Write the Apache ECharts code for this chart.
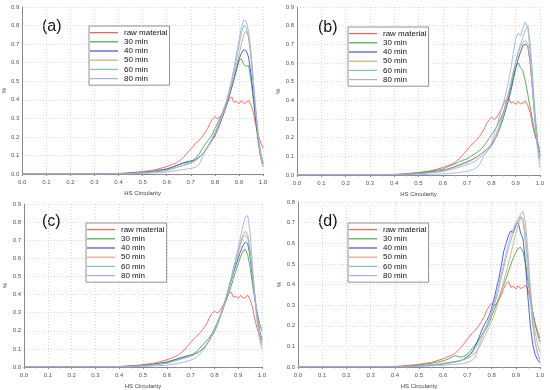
<!DOCTYPE html>
<html><head><meta charset="utf-8">
<script src="https://cdn.jsdelivr.net/npm/echarts@6/dist/echarts.min.js"></script>
<style>html,body{margin:0;padding:0;background:#fff}#c{width:550px;height:390px}</style>
</head><body><div id="c"></div>
<script>
const seriesNames = ['raw material','30 min','40 min','50 min','60 min','80 min'];
const panelLabels = ['(a)','(b)','(c)','(d)'];
const xTicks = [0,0.1,0.2,0.3,0.4,0.5,0.6,0.7,0.8,0.9,1.0];
const yMaxes = [0.9,0.9,0.9,0.8];

const xs = [0,0.30,0.35,0.40,0.45,0.50,0.55,
0.60,0.61,0.62,0.63,0.64,0.65,0.66,0.67,0.68,0.69,
0.70,0.71,0.72,0.73,0.74,0.75,0.76,0.77,0.78,0.79,
0.80,0.81,0.82,0.83,0.84,0.85,0.86,0.87,0.88,0.89,
0.90,0.91,0.92,0.93,0.94,0.95,0.96,0.97,0.98,0.99,1.00];

const raw = [0,0,0.001,0.003,0.007,0.013,0.022,
0.040,0.045,0.050,0.055,0.060,0.068,0.078,0.090,0.105,0.120,
0.135,0.150,0.165,0.175,0.190,0.205,0.225,0.245,0.275,0.295,
0.310,0.298,0.305,0.325,0.350,0.380,0.405,0.415,0.385,0.392,
0.378,0.395,0.380,0.386,0.397,0.372,0.330,0.262,0.210,0.172,0.140];

// panel (a)
const a30 = [0,0,0,0.002,0.005,0.010,0.017,
0.028,0.032,0.036,0.040,0.045,0.050,0.055,0.058,0.060,0.063,
0.066,0.075,0.088,0.100,0.118,0.140,0.160,0.180,0.195,0.215,
0.245,0.270,0.300,0.325,0.360,0.385,0.420,0.465,0.510,0.560,
0.610,0.620,0.590,0.580,0.585,0.510,0.400,0.280,0.170,0.090,0.040];
const a40 = [0,0,0,0.001,0.004,0.008,0.014,
0.025,0.030,0.035,0.040,0.045,0.050,0.055,0.060,0.065,0.068,
0.070,0.072,0.078,0.088,0.098,0.110,0.125,0.145,0.165,0.185,
0.205,0.235,0.265,0.300,0.335,0.375,0.420,0.470,0.520,0.570,
0.615,0.650,0.670,0.665,0.630,0.540,0.420,0.300,0.190,0.110,0.060];
const a50 = [0,0,0,0.001,0.003,0.007,0.012,
0.020,0.024,0.028,0.032,0.036,0.040,0.044,0.048,0.052,0.056,
0.060,0.066,0.074,0.084,0.096,0.110,0.128,0.148,0.170,0.192,
0.215,0.245,0.275,0.310,0.345,0.385,0.430,0.480,0.530,0.590,
0.640,0.700,0.750,0.770,0.740,0.640,0.500,0.350,0.220,0.120,0.060];
const a60 = [0,0,0,0.001,0.003,0.006,0.011,
0.018,0.022,0.026,0.030,0.034,0.038,0.042,0.046,0.050,0.054,
0.058,0.064,0.072,0.082,0.095,0.110,0.128,0.150,0.172,0.195,
0.220,0.250,0.282,0.318,0.355,0.395,0.440,0.495,0.555,0.620,
0.690,0.760,0.800,0.790,0.740,0.630,0.480,0.330,0.200,0.110,0.050];
const a80 = [0,0,0,0,0.001,0.003,0.006,
0.010,0.012,0.014,0.016,0.018,0.020,0.022,0.024,0.026,0.028,
0.030,0.033,0.037,0.045,0.065,0.095,0.120,0.145,0.170,0.195,
0.222,0.252,0.285,0.320,0.360,0.405,0.455,0.510,0.575,0.650,
0.720,0.790,0.830,0.825,0.770,0.660,0.500,0.340,0.200,0.100,0.040];

// panel (b)
const b30 = [0,0,0,0.002,0.006,0.012,0.020,
0.032,0.038,0.044,0.050,0.055,0.060,0.066,0.072,0.078,0.082,
0.086,0.095,0.105,0.112,0.120,0.130,0.142,0.158,0.175,0.195,
0.215,0.235,0.255,0.280,0.310,0.340,0.380,0.420,0.470,0.530,
0.580,0.600,0.575,0.555,0.500,0.430,0.360,0.290,0.220,0.160,0.110];
const b40 = [0,0,0,0.001,0.004,0.009,0.015,
0.024,0.028,0.032,0.036,0.040,0.045,0.050,0.055,0.060,0.065,
0.070,0.076,0.082,0.090,0.098,0.106,0.115,0.125,0.136,0.148,
0.160,0.180,0.205,0.235,0.270,0.310,0.355,0.400,0.450,0.510,
0.570,0.620,0.660,0.695,0.700,0.690,0.600,0.450,0.300,0.180,0.100];
const b50 = [0,0,0,0.001,0.004,0.008,0.014,
0.022,0.026,0.030,0.034,0.038,0.042,0.047,0.052,0.057,0.062,
0.067,0.073,0.080,0.088,0.096,0.105,0.115,0.126,0.138,0.150,
0.165,0.190,0.220,0.255,0.295,0.340,0.390,0.440,0.495,0.550,
0.600,0.650,0.690,0.710,0.720,0.700,0.600,0.440,0.290,0.170,0.090];
const b60 = [0,0,0,0.001,0.003,0.007,0.012,
0.019,0.022,0.025,0.028,0.031,0.035,0.039,0.043,0.047,0.051,
0.055,0.060,0.066,0.073,0.081,0.090,0.100,0.112,0.125,0.138,
0.152,0.175,0.205,0.240,0.280,0.325,0.375,0.430,0.490,0.550,
0.610,0.660,0.700,0.740,0.780,0.800,0.700,0.520,0.330,0.180,0.080];
const b80 = [0,0,0,0,0.001,0.002,0.004,
0.006,0.007,0.008,0.009,0.010,0.011,0.012,0.014,0.016,0.018,
0.020,0.023,0.027,0.032,0.040,0.055,0.080,0.105,0.120,0.140,
0.170,0.210,0.255,0.300,0.345,0.390,0.440,0.500,0.570,0.650,
0.730,0.760,0.745,0.790,0.820,0.790,0.650,0.450,0.270,0.130,0.040];

// panel (c)
const c30 = [0,0,0,0.002,0.005,0.010,0.017,
0.028,0.032,0.036,0.040,0.044,0.048,0.052,0.056,0.060,0.062,
0.064,0.070,0.080,0.092,0.105,0.120,0.135,0.150,0.165,0.185,
0.210,0.240,0.270,0.300,0.335,0.370,0.405,0.445,0.490,0.530,
0.570,0.610,0.640,0.650,0.620,0.550,0.460,0.370,0.300,0.240,0.200];
const c40 = [0,0,0,0.001,0.004,0.009,0.015,
0.025,0.029,0.033,0.037,0.041,0.045,0.049,0.053,0.057,0.061,
0.065,0.069,0.074,0.080,0.088,0.098,0.112,0.130,0.150,0.172,
0.195,0.225,0.260,0.300,0.340,0.385,0.430,0.475,0.520,0.560,
0.600,0.640,0.670,0.690,0.680,0.610,0.500,0.380,0.280,0.200,0.150];
const c50 = [0,0,0,0.001,0.003,0.008,0.013,
0.021,0.025,0.029,0.033,0.037,0.041,0.045,0.049,0.053,0.057,
0.061,0.066,0.072,0.079,0.088,0.100,0.115,0.133,0.153,0.175,
0.200,0.230,0.265,0.305,0.345,0.390,0.440,0.490,0.540,0.590,
0.640,0.690,0.730,0.750,0.730,0.650,0.530,0.400,0.290,0.200,0.140];
const c60 = [0,0,0,0.001,0.003,0.007,0.012,
0.020,0.024,0.028,0.032,0.036,0.040,0.044,0.048,0.052,0.056,
0.060,0.065,0.071,0.078,0.087,0.098,0.112,0.130,0.150,0.172,
0.196,0.225,0.258,0.295,0.335,0.380,0.428,0.478,0.528,0.578,
0.628,0.675,0.715,0.730,0.710,0.630,0.510,0.380,0.270,0.180,0.120];
const c80 = [0,0,0,0,0.001,0.003,0.006,
0.010,0.012,0.014,0.016,0.018,0.020,0.023,0.026,0.030,0.034,
0.038,0.043,0.050,0.060,0.072,0.088,0.106,0.126,0.148,0.172,
0.198,0.228,0.262,0.300,0.340,0.385,0.435,0.490,0.545,0.600,
0.660,0.720,0.780,0.830,0.835,0.740,0.560,0.380,0.240,0.150,0.100];

// panel (d)
const d30 = [0,0,0,0.001,0.004,0.010,0.018,
0.030,0.034,0.038,0.044,0.050,0.055,0.052,0.048,0.050,0.055,
0.062,0.075,0.090,0.105,0.120,0.140,0.155,0.170,0.190,0.215,
0.245,0.275,0.305,0.335,0.370,0.400,0.430,0.465,0.500,0.530,
0.555,0.575,0.580,0.560,0.500,0.420,0.340,0.270,0.210,0.160,0.120];
const d40 = [0,0,0,0,0.002,0.005,0.010,
0.015,0.017,0.019,0.021,0.023,0.025,0.027,0.030,0.035,0.042,
0.050,0.060,0.075,0.095,0.120,0.150,0.180,0.205,0.225,0.250,
0.285,0.330,0.380,0.430,0.490,0.560,0.600,0.640,0.660,0.650,
0.690,0.700,0.650,0.620,0.500,0.340,0.200,0.110,0.060,0.035,0.020];
const d50 = [0,0,0,0,0.002,0.006,0.011,
0.018,0.020,0.022,0.024,0.026,0.028,0.030,0.032,0.035,0.038,
0.042,0.048,0.056,0.066,0.080,0.098,0.120,0.145,0.170,0.195,
0.220,0.250,0.285,0.325,0.370,0.415,0.460,0.505,0.550,0.600,
0.650,0.690,0.725,0.720,0.650,0.520,0.380,0.260,0.170,0.110,0.070];
const d60 = [0,0,0,0,0.002,0.005,0.009,
0.014,0.016,0.018,0.020,0.022,0.024,0.026,0.029,0.033,0.038,
0.045,0.055,0.068,0.085,0.105,0.130,0.155,0.180,0.205,0.230,
0.260,0.295,0.335,0.380,0.430,0.480,0.530,0.575,0.615,0.650,
0.680,0.710,0.730,0.700,0.600,0.460,0.320,0.200,0.120,0.070,0.040];
const d80 = [0,0,0,0,0.001,0.003,0.005,
0.008,0.009,0.010,0.011,0.012,0.013,0.014,0.015,0.017,0.019,
0.022,0.026,0.032,0.045,0.075,0.110,0.140,0.170,0.200,0.230,
0.265,0.305,0.350,0.400,0.450,0.500,0.550,0.600,0.640,0.670,
0.700,0.720,0.740,0.755,0.700,0.560,0.380,0.220,0.120,0.060,0.030];

const panels = [
  [raw,a30,a40,a50,a60,a80],
  [raw,b30,b40,b50,b60,b80],
  [raw,c30,c40,c50,c60,c80],
  [raw,d30,d40,d50,d60,d80]
];

const colors = ['#ff5c5c','#45a845','#4a4acb','#d8a679','#7cc8b5','#acacec'];
const grids = [
  {left:22, top:7, width:241, height:167},
  {left:297, top:7, width:243, height:168},
  {left:24, top:204, width:238, height:165},
  {left:298, top:202, width:242, height:167}
];
const legendPos = [[89,26],[348,27],[86,223],[348,223]];
const labelPos = [[42,28],[318,29],[42,223],[318,223]];

const FONT = 'Liberation Sans, Arial, sans-serif';
const option = {
  animation:false,
  backgroundColor:'#fff',
  color: colors,
  grid: grids.map(g => Object.assign({containLabel:false, show:false}, g)),
  xAxis: grids.map((g,i) => ({
    type:'value', gridIndex:i, min:0, max:1, interval:0.1,
    name:'HS Circularity', nameLocation:'middle', nameGap:16,
    nameTextStyle:{fontSize:6, color:'#444', fontFamily:FONT},
    axisLine:{show:true, lineStyle:{color:'#888', width:1}},
    axisTick:{show:true, length:2, lineStyle:{color:'#888'}},
    minorTick:{show:true, splitNumber:2, length:1.5, lineStyle:{color:'#aaa'}},
    axisLabel:{fontSize:6, color:'#555', margin:5, fontFamily:FONT,
      formatter: v => v.toFixed(1)},
    splitLine:{show:true, lineStyle:{color:'#d8d8d8', type:[1,2], width:1}}
  })),
  yAxis: grids.map((g,i) => ({
    type:'value', gridIndex:i, min:0, max:yMaxes[i], interval:0.1,
    name:'%', nameLocation:'middle', nameGap:14, nameRotate:90,
    nameTextStyle:{fontSize:6, color:'#444', fontFamily:FONT},
    axisLine:{show:true, lineStyle:{color:'#888', width:1}},
    axisTick:{show:false},
    axisLabel:{fontSize:6, color:'#555', margin:3, fontFamily:FONT,
      formatter: v => v.toFixed(1)},
    splitLine:{show:true, lineStyle:{color:'#d8d8d8', type:[1,2], width:1}}
  })),
  legend: legendPos.map((p,i) => ({
    left:p[0], top:p[1], orient:'vertical',
    data: seriesNames,
    icon:'rect', itemWidth:28, itemHeight:1.2, itemGap:0,
    padding:[2,2,2,1],
    borderColor:'#777', borderWidth:0.8, backgroundColor:'#fff',
    selectedMode:false,
    textStyle:{fontSize:8, lineHeight:9.2, color:'#111', fontFamily:FONT, padding:[0,0,0,1]}
  })),
  graphic: labelPos.map((p,i) => ({
    type:'text', left:p[0], top:p[1]-9,
    style:{text:panelLabels[i], fontSize:16, fill:'#111', fontFamily:FONT}
  })),
  series: []
};
panels.forEach((arrs, pi) => {
  arrs.forEach((ys, si) => {
    option.series.push({
      type:'line', name:seriesNames[si], xAxisIndex:pi, yAxisIndex:pi,
      symbol:'none', smooth:false,
      lineStyle:{width:0.9, color:colors[si]},
      itemStyle:{color:colors[si]},
      data: xs.map((x,k) => [x, ys[k]])
    });
  });
});
const chart = echarts.init(document.getElementById('c'), null, {renderer:'canvas'});
chart.setOption(option);
</script></body></html>
